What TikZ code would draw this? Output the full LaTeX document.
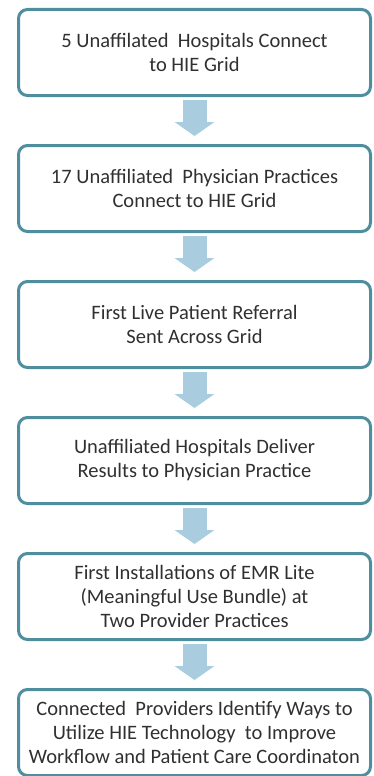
\documentclass[tikz,border=0pt]{standalone}
\usepackage{fontspec}
\setmainfont{Carlito}
\usepackage{tikz}
\usetikzlibrary{
  positioning,
  arrows.meta}
\definecolor{stageline}{HTML}{4E8E9F}
\definecolor{flowfill}{HTML}{A9CDDE}
\definecolor{stagetext}{HTML}{303030}

\begin{document}
\begin{tikzpicture}[
  stage/.style={draw=stageline, line width=3pt, rounded corners=9pt,
    minimum width=352pt, minimum height=86pt, inner sep=0pt,
    align=center, text=stagetext, font=\fontsize{20.5}{24}\selectfont},
  flow/.style={draw=flowfill, line width=24pt,
    -{Triangle[width=40pt,length=14pt,line width=0pt]},
    shorten <=3pt, shorten >=8pt}]
\useasboundingbox (0pt,0pt) rectangle (374pt,-776pt);
\node[stage] (hosp) at (194.5pt,-52.5pt) {5 Unaffilated~ Hospitals Connect\\to HIE Grid};
\node[stage, below=47pt of hosp] (phys) {17 Unaffiliated~ Physician Practices\\Connect to HIE Grid};
\node[stage, below=47pt of phys] (refer) {First Live Patient Referral\\Sent Across Grid};
\node[stage, below=47pt of refer] (results) {Unaffiliated Hospitals Deliver\\Results to Physician Practice};
\node[stage, below=47pt of results] (emr) {First Installations of EMR Lite\\(Meaningful Use Bundle) at\\Two Provider Practices};
\node[stage, below=47pt of emr] (ways) {Connected~ Providers Identify Ways to\\Utilize HIE Technology~ to Improve\\Workflow and Patient Care Coordinaton};
\foreach \a/\b in {hosp/phys, phys/refer, refer/results, results/emr, emr/ways} {
  \draw[flow] (\a) -- (\b);
}
\end{tikzpicture}
\end{document}
